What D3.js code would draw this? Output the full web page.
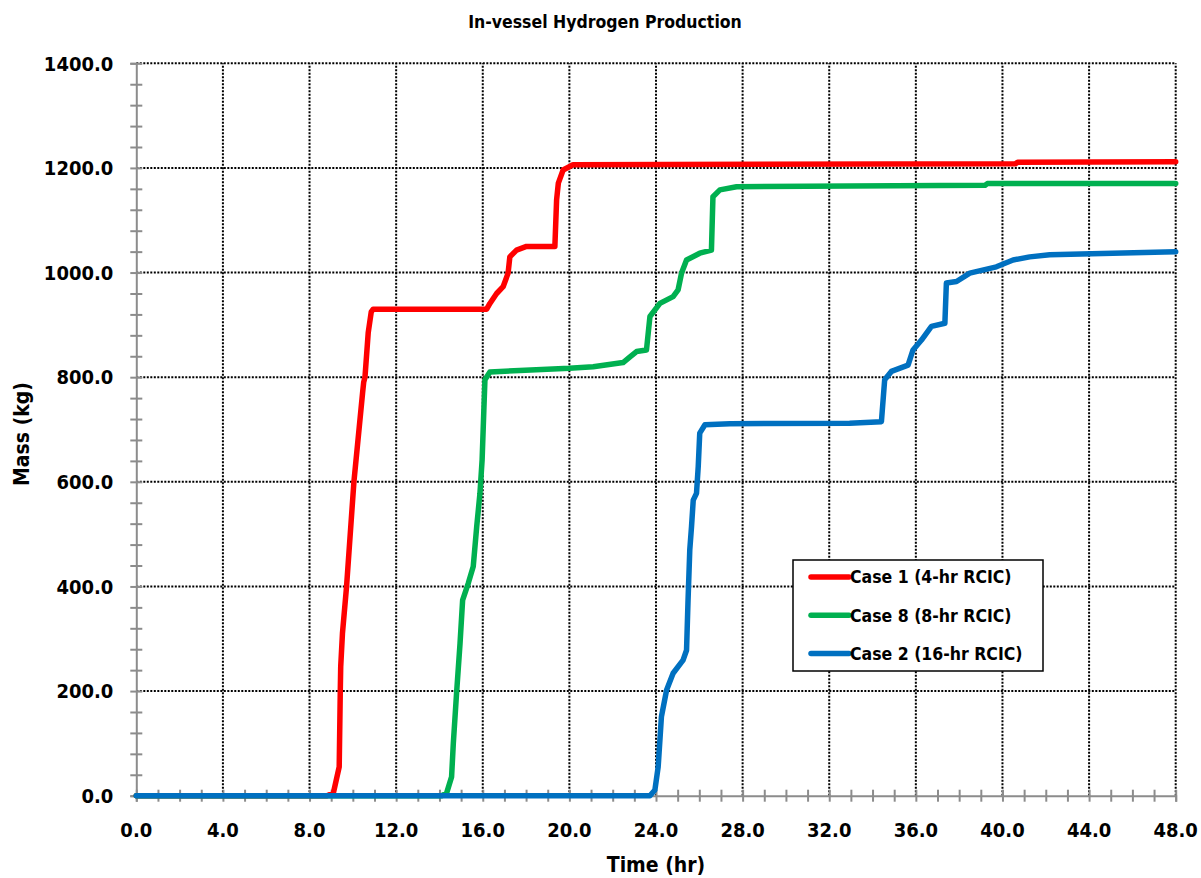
<script src="https://d3js.org/d3.v7.min.js"></script>
<style>
    body { margin: 0; background: #fff; }
    text { font-family: "DejaVu Sans Condensed", "DejaVu Sans", sans-serif; font-weight: bold; fill: #000; }
</style>
<svg id="chart" width="1201" height="878"></svg>
<script>
    // values: [time (hr), mass (kg)]
    var case1 = [[0,0],[8.8,0],[9.1,5],[9.37,55],[9.42,200],[9.44,247],[9.52,310],[9.71,400],[10.05,600],
        [10.45,770],[10.5,790],[10.56,800],[10.71,885],[10.85,925],[10.94,930],[16.18,930],[16.33,941],
        [16.64,960],[16.94,973],[17.17,999],[17.25,1030],[17.56,1043],[18.02,1050],[19.33,1050],[19.41,1139],
        [19.49,1171],[19.71,1196],[20.17,1206],[40.6,1208],[40.7,1211],[48,1212]];
    var case8 = [[0,0],[14.1,0],[14.33,5],[14.56,36],[14.64,100],[14.79,196],[14.95,291],[15.07,374],
        [15.33,406],[15.56,438],[15.72,514],[15.87,578],[15.97,642],[16.05,737],[16.1,795],[16.33,810],
        [17.7,813],[20.0,817],[21.1,820],[22.48,828],[22.8,839],[23.1,849],[23.56,852],[23.72,916],
        [24.18,941],[24.79,954],[25.02,967],[25.18,999],[25.41,1024],[26.02,1037],[26.56,1043],[26.63,1145],
        [26.95,1158],[27.72,1164],[39.2,1167],[39.3,1170],[48,1170]];
    var case2 = [[0,0],[23.72,0],[23.95,11],[24.1,55],[24.25,151],[24.49,202],[24.79,234],[25.25,259],
        [25.41,278],[25.48,374],[25.56,470],[25.64,514],[25.72,565],[25.87,578],[25.95,629],[26.02,693],
        [26.26,709],[27.41,711],[32.94,712],[34.41,715],[34.56,795],[34.87,811],[35.64,823],[35.87,852],
        [36.26,871],[36.72,897],[37.34,903],[37.41,980],[37.88,983],[38.49,999],[39.72,1011],[40.49,1024],
        [41.26,1030],[42.18,1034],[48,1040]];
    var seriesNames = ["Case 1 (4-hr RCIC)", "Case 8 (8-hr RCIC)", "Case 2 (16-hr RCIC)"];
    var seriesColors = ["#ff0000", "#00b050", "#0070c0"];
    var xTicks = d3.range(0, 48.1, 4);
    var yTicks = d3.range(0, 1400.1, 200);

    var svg = d3.select("#chart");
    var margin = {top: 63.3, right: 25.3, bottom: 82.3, left: 136.3};
    var width = +svg.attr("width"), height = +svg.attr("height");

    var x = d3.scaleLinear().domain([0, 48]).range([margin.left, width - margin.right]);
    var y = d3.scaleLinear().domain([0, 1400]).range([height - margin.bottom, margin.top]);

    // grid
    var grid = svg.append("g")
        .attr("stroke", "#000").attr("stroke-width", 2).attr("stroke-dasharray", "2,1.5");
    grid.selectAll(".gx").data(xTicks.slice(1)).join("line")
        .attr("x1", d => x(d)).attr("x2", d => x(d))
        .attr("y1", y(0)).attr("y2", y(1400));
    grid.selectAll(".gy").data(yTicks.slice(1)).join("line")
        .attr("x1", x(0)).attr("x2", x(48))
        .attr("y1", d => y(d)).attr("y2", d => y(d));

    // axes (ticks crossing the axis line)
    var axisColor = "#8c8c8c";
    svg.append("g").attr("transform", `translate(0,${y(0)})`)
        .call(d3.axisBottom(x).tickValues(d3.range(0, 48.1, 1)).tickSize(6).tickFormat(""))
        .call(g => g.select(".domain").attr("stroke", axisColor).attr("stroke-width", 2))
        .call(g => g.selectAll(".tick line").attr("stroke", axisColor).attr("stroke-width", 2).attr("y1", -6));
    svg.append("g").attr("transform", `translate(${x(0)},0)`)
        .call(d3.axisLeft(y).tickValues(d3.range(0, 1400.1, 40)).tickSize(6).tickFormat(""))
        .call(g => g.select(".domain").attr("stroke", axisColor).attr("stroke-width", 2))
        .call(g => g.selectAll(".tick line").attr("stroke", axisColor).attr("stroke-width", 2).attr("x1", 6));

    // tick labels
    svg.append("g").selectAll("text").data(xTicks).join("text")
        .attr("x", d => x(d)).attr("y", y(0) + 41)
        .attr("text-anchor", "middle").attr("font-size", 20)
        .text(d => d.toFixed(1));
    svg.append("g").selectAll("text").data(yTicks).join("text")
        .attr("x", x(0) - 23).attr("y", d => y(d)).attr("dy", "0.36em")
        .attr("text-anchor", "end").attr("font-size", 20)
        .text(d => d.toFixed(1));

    // lines
    var line = d3.line().x(d => x(d[0])).y(d => y(d[1]));
    [case1, case8, case2].forEach(function(s, i) {
        svg.append("path").datum(s)
            .attr("fill", "none").attr("stroke", seriesColors[i])
            .attr("stroke-width", 5.5).attr("stroke-linejoin", "round").attr("stroke-linecap", "round")
            .attr("d", line);
    });

    // titles
    svg.append("text").attr("x", 605).attr("y", 28).attr("text-anchor", "middle")
        .attr("font-size", 17.5).text("In-vessel Hydrogen Production");
    svg.append("text").attr("x", 656).attr("y", 872).attr("text-anchor", "middle")
        .attr("font-size", 21).text("Time (hr)");
    svg.append("text").attr("transform", "translate(29,434) rotate(-90)").attr("text-anchor", "middle")
        .attr("font-size", 21).text("Mass (kg)");

    // legend
    var legend = svg.append("g").attr("transform", "translate(793,560)");
    legend.append("rect").attr("width", 250).attr("height", 111)
        .attr("fill", "#fff").attr("stroke", "#000").attr("stroke-width", 1.5);
    var rows = legend.selectAll("g").data(seriesNames).join("g")
        .attr("transform", (d, i) => `translate(0,${17 + i * 38.3})`);
    rows.append("line").attr("x1", 18).attr("x2", 56)
        .attr("stroke", (d, i) => seriesColors[i]).attr("stroke-width", 5.5).attr("stroke-linecap", "round");
    rows.append("text").attr("x", 57).attr("dy", "0.36em").attr("font-size", 17.5).text(d => d);
</script>
